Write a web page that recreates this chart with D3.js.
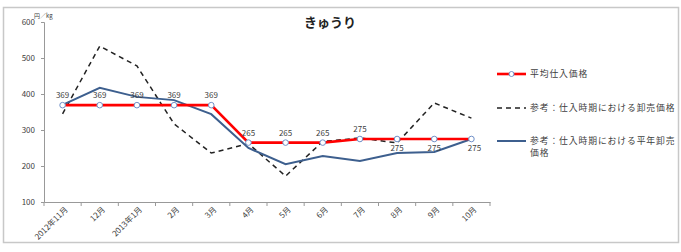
<!DOCTYPE html>
<html>
<head>
<meta charset="utf-8">
<script src="https://cdn.jsdelivr.net/npm/d3@7"></script>
<style>
  body { margin: 0; background: #fff; }
  text { font-family: "Noto Sans CJK JP", "Noto Sans", sans-serif; }
</style>
</head>
<body>
<div id="chart"></div>
<script>
const months = ["2012年11月", "12月", "2013年1月", "2月", "3月", "4月", "5月", "6月", "7月", "8月", "9月", "10月"];
const avgPrice = [369, 369, 369, 369, 369, 265, 265, 265, 275, 275, 275, 275];
const wholesale = [345, 533, 478, 317, 236, 262, 172, 268, 278, 264, 375, 333];
const normalYear = [370, 417, 392, 383, 344, 250, 205, 228, 214, 236, 239, 275];
const yTicks = [100, 200, 300, 400, 500, 600];
const seriesNames = ["平均仕入価格", "参考：仕入時期における卸売価格", ["参考：仕入時期における平年卸売", "価格"]];

const width = 681;
const height = 252;

const svg = d3.select("#chart")
  .append("svg")
  .attr("width", width)
  .attr("height", height);

// frame
svg.append("rect")
  .attr("x", 3.5).attr("y", 7.5)
  .attr("width", 675).attr("height", 235)
  .attr("fill", "white")
  .attr("stroke", "#c8c8c8")
  .attr("stroke-width", 1.5);

const x = d3.scaleBand().domain(months).range([44, 490]);
const y = d3.scaleLinear().domain([100, 600]).range([202, 22]);
const cx = d => x(d) + x.bandwidth() / 2;

// y axis
const yAxis = svg.append("g")
  .attr("transform", "translate(44,0)")
  .call(d3.axisLeft(y).tickValues(yTicks).tickSize(3).tickPadding(6));
yAxis.select(".domain").attr("stroke", "#999");
yAxis.selectAll(".tick line").attr("stroke", "#999");
yAxis.selectAll(".tick text").attr("fill", "#404040").style("font-size", "8px");

// x axis
const xAxis = svg.append("g")
  .attr("transform", "translate(0,202)")
  .call(d3.axisBottom(x).tickSize(0).tickSizeOuter(0).tickPadding(5));
xAxis.select(".domain").attr("stroke", "#999");
xAxis.selectAll(".tick text")
  .attr("fill", "#404040")
  .style("font-size", "8px")
  .attr("text-anchor", "end")
  .attr("dx", "-0.2em")
  .attr("dy", "0.6em")
  .attr("transform", "rotate(-45)");
xAxis.selectAll(".sep")
  .data(d3.range(months.length + 1))
  .enter()
  .append("line")
  .attr("x1", i => 44 + i * x.step())
  .attr("x2", i => 44 + i * x.step())
  .attr("y1", 0).attr("y2", 4)
  .attr("stroke", "#999");

// unit
svg.append("text")
  .attr("x", 34).attr("y", 18)
  .attr("fill", "#404040")
  .style("font-size", "6px")
  .text("円／kg");

// title
svg.append("text")
  .attr("x", 330).attr("y", 27)
  .attr("text-anchor", "middle")
  .attr("fill", "#222")
  .style("font-size", "13px")
  .style("font-weight", "bold")
  .text("きゅうり");

const line = d3.line()
  .x((d, i) => cx(months[i]))
  .y(d => y(d));

svg.append("path")
  .datum(wholesale)
  .attr("d", line)
  .attr("fill", "none")
  .attr("stroke", "#222")
  .attr("stroke-width", 1.5)
  .attr("stroke-dasharray", "5,4");

svg.append("path")
  .datum(normalYear)
  .attr("d", line)
  .attr("fill", "none")
  .attr("stroke", "#3d5f8e")
  .attr("stroke-width", 2);

svg.append("path")
  .datum(avgPrice)
  .attr("d", line)
  .attr("fill", "none")
  .attr("stroke", "#ff0000")
  .attr("stroke-width", 2.6);

svg.selectAll("circle.avg")
  .data(avgPrice)
  .enter()
  .append("circle")
  .attr("cx", (d, i) => cx(months[i]))
  .attr("cy", d => y(d))
  .attr("r", 2.8)
  .attr("fill", "white")
  .attr("stroke", "#7090c8")
  .attr("stroke-width", 1);

// data labels: Aug-Oct below the line
svg.selectAll("text.lbl")
  .data(avgPrice)
  .enter()
  .append("text")
  .attr("x", (d, i) => cx(months[i]) + (i === 11 ? 3 : 0))
  .attr("y", (d, i) => i >= 9 ? y(d) + 12 : y(d) - 7)
  .attr("text-anchor", "middle")
  .attr("fill", "#404040")
  .style("font-size", "8px")
  .text(d => d);

// legend
const lg = svg.append("g");
const ly = [74, 108, 141];
lg.append("line").attr("x1", 497).attr("x2", 526).attr("y1", ly[0]).attr("y2", ly[0])
  .attr("stroke", "#ff0000").attr("stroke-width", 2.6);
lg.append("circle").attr("cx", 511.5).attr("cy", ly[0]).attr("r", 2.5)
  .attr("fill", "white").attr("stroke", "#7090c8");
lg.append("line").attr("x1", 497).attr("x2", 526).attr("y1", ly[1]).attr("y2", ly[1])
  .attr("stroke", "#222").attr("stroke-width", 1.5).attr("stroke-dasharray", "5,4");
lg.append("line").attr("x1", 497).attr("x2", 526).attr("y1", ly[2]).attr("y2", ly[2])
  .attr("stroke", "#3d5f8e").attr("stroke-width", 2);

seriesNames.forEach((name, i) => {
  const t = lg.append("text")
    .attr("x", 530).attr("y", ly[i] + 3)
    .attr("fill", "#404040")
    .style("font-size", "8.8px")
    .style("letter-spacing", "0.9px");
  [].concat(name).forEach((s, j) => {
    t.append("tspan").attr("x", 530).attr("dy", j ? 12 : 0).text(s);
  });
});
</script>
</body>
</html>
